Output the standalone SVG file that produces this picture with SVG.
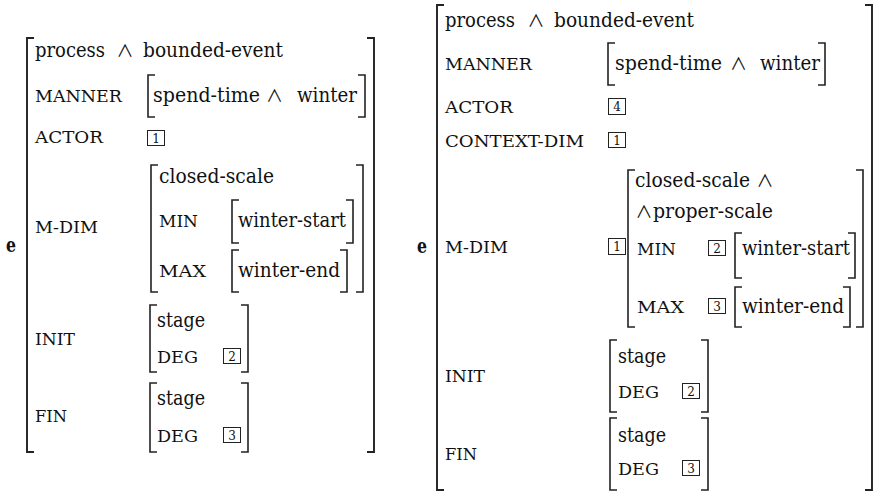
<svg xmlns="http://www.w3.org/2000/svg" width="876" height="493" viewBox="0 0 876 493">
<style>
.t{font-family:'DejaVu Serif',serif;font-size:19.5px;fill:#111}
.l{font-family:'DejaVu Serif',serif;font-size:17.5px;fill:#111}
.e{font-family:'DejaVu Serif',serif;font-size:21px;font-weight:bold;fill:#111}
.w{font-family:'Noto Sans CJK JP','DejaVu Sans',sans-serif;font-size:17px;fill:#111;text-anchor:middle}
.d{font-family:'DejaVu Serif',serif;font-size:12px;fill:#111;text-anchor:middle}
.b{fill:none;stroke:#222;stroke-width:1.6}
.bo{fill:none;stroke:#222;stroke-width:1.9}
.x{fill:none;stroke:#222;stroke-width:1}
</style>
<rect width="876" height="493" fill="#fff"/>
<g id="avm-left">
<text class="e" x="6" y="252" textLength="10" lengthAdjust="spacingAndGlyphs">e</text>
<path class="bo" d="M34 38H27V452H34M367 38H374V452H367"/>
<text class="t" x="35" y="57" textLength="70" lengthAdjust="spacingAndGlyphs">process</text><text class="w" x="125" y="57">∧</text><text class="t" x="143" y="57" textLength="140" lengthAdjust="spacingAndGlyphs">bounded-event</text>
<text class="l" x="35" y="102" textLength="87" lengthAdjust="spacingAndGlyphs">MANNER</text>
<path class="b" d="M155 75H148V117H155M358 75H365V117H358"/>
<text class="t" x="153" y="102" textLength="107" lengthAdjust="spacingAndGlyphs">spend-time</text><text class="w" x="274.5" y="102">∧</text><text class="t" x="297" y="102" textLength="60" lengthAdjust="spacingAndGlyphs">winter</text>
<text class="l" x="35" y="143" textLength="68" lengthAdjust="spacingAndGlyphs">ACTOR</text>
<rect class="x" x="147.5" y="130.5" width="17" height="15"/><text class="d" x="156" y="143">1</text>
<text class="l" x="35" y="233" textLength="63" lengthAdjust="spacingAndGlyphs">M-DIM</text>
<path class="b" d="M158 165H151V292H158M356 165H363V292H356"/>
<text class="t" x="159" y="183" textLength="115" lengthAdjust="spacingAndGlyphs">closed-scale</text>
<text class="l" x="159" y="227" textLength="39" lengthAdjust="spacingAndGlyphs">MIN</text>
<path class="b" d="M239 200H232V243H239M346 200H353V243H346"/>
<text class="t" x="238" y="227" textLength="108" lengthAdjust="spacingAndGlyphs">winter-start</text>
<text class="l" x="159" y="277" textLength="47" lengthAdjust="spacingAndGlyphs">MAX</text>
<path class="b" d="M239 250H232V292H239M340 250H347V292H340"/>
<text class="t" x="238" y="277" textLength="102" lengthAdjust="spacingAndGlyphs">winter-end</text>
<text class="l" x="35" y="345" textLength="40" lengthAdjust="spacingAndGlyphs">INIT</text>
<path class="b" d="M157 305H150V372H157M241 305H248V372H241"/>
<text class="t" x="157" y="327" textLength="48" lengthAdjust="spacingAndGlyphs">stage</text>
<text class="l" x="157" y="363" textLength="41" lengthAdjust="spacingAndGlyphs">DEG</text>
<rect class="x" x="223.5" y="348.5" width="17" height="15"/><text class="d" x="232" y="361">2</text>
<text class="l" x="35" y="422" textLength="32" lengthAdjust="spacingAndGlyphs">FIN</text>
<path class="b" d="M157 383H150V452H157M241 383H248V452H241"/>
<text class="t" x="157" y="405" textLength="48" lengthAdjust="spacingAndGlyphs">stage</text>
<text class="l" x="157" y="442" textLength="41" lengthAdjust="spacingAndGlyphs">DEG</text>
<rect class="x" x="223.5" y="427.5" width="17" height="15"/><text class="d" x="232" y="440">3</text>
</g>
<g id="avm-right">
<text class="e" x="417" y="253" textLength="10" lengthAdjust="spacingAndGlyphs">e</text>
<path class="bo" d="M444 5H437V490H444M865 5H872V490H865"/>
<text class="t" x="445" y="27" textLength="70" lengthAdjust="spacingAndGlyphs">process</text><text class="w" x="536" y="27">∧</text><text class="t" x="554" y="27" textLength="140" lengthAdjust="spacingAndGlyphs">bounded-event</text>
<text class="l" x="445" y="70" textLength="87" lengthAdjust="spacingAndGlyphs">MANNER</text>
<path class="b" d="M615 43H608V85H615M818 43H825V85H818"/>
<text class="t" x="615" y="70" textLength="107" lengthAdjust="spacingAndGlyphs">spend-time</text><text class="w" x="738.5" y="70">∧</text><text class="t" x="760" y="70" textLength="60" lengthAdjust="spacingAndGlyphs">winter</text>
<text class="l" x="445" y="113" textLength="68" lengthAdjust="spacingAndGlyphs">ACTOR</text>
<rect class="x" x="608.5" y="98.5" width="17" height="16"/><text class="d" x="617" y="111">4</text>
<text class="l" x="445" y="147" textLength="139" lengthAdjust="spacingAndGlyphs">CONTEXT-DIM</text>
<rect class="x" x="608.5" y="132.5" width="17" height="15"/><text class="d" x="617" y="145">1</text>
<text class="l" x="445" y="253" textLength="63" lengthAdjust="spacingAndGlyphs">M-DIM</text>
<rect class="x" x="608.5" y="238.5" width="17" height="16"/><text class="d" x="617" y="251">1</text>
<path class="b" d="M635 170H628V327H635M856 170H863V327H856"/>
<text class="t" x="635" y="187" textLength="115" lengthAdjust="spacingAndGlyphs">closed-scale</text><text class="w" x="765" y="187">∧</text>
<text class="w" x="644" y="218">∧</text><text class="t" x="653" y="218" textLength="120" lengthAdjust="spacingAndGlyphs">proper-scale</text>
<text class="l" x="637" y="255" textLength="39" lengthAdjust="spacingAndGlyphs">MIN</text>
<rect class="x" x="708.5" y="240.5" width="17" height="15"/><text class="d" x="717" y="253">2</text>
<path class="b" d="M742 233H735V278H742M848 233H855V278H848"/>
<text class="t" x="742" y="255" textLength="108" lengthAdjust="spacingAndGlyphs">winter-start</text>
<text class="l" x="637" y="313" textLength="47" lengthAdjust="spacingAndGlyphs">MAX</text>
<rect class="x" x="708.5" y="298.5" width="17" height="15"/><text class="d" x="717" y="311">3</text>
<path class="b" d="M742 287H735V327H742M843 287H850V327H843"/>
<text class="t" x="742" y="313" textLength="102" lengthAdjust="spacingAndGlyphs">winter-end</text>
<text class="l" x="445" y="382" textLength="40" lengthAdjust="spacingAndGlyphs">INIT</text>
<path class="b" d="M617 340H610V412H617M701 340H708V412H701"/>
<text class="t" x="618" y="363" textLength="48" lengthAdjust="spacingAndGlyphs">stage</text>
<text class="l" x="618" y="398" textLength="41" lengthAdjust="spacingAndGlyphs">DEG</text>
<rect class="x" x="682.5" y="383.5" width="17" height="15"/><text class="d" x="691" y="396">2</text>
<text class="l" x="445" y="460" textLength="32" lengthAdjust="spacingAndGlyphs">FIN</text>
<path class="b" d="M617 418H610V490H617M701 418H708V490H701"/>
<text class="t" x="618" y="442" textLength="48" lengthAdjust="spacingAndGlyphs">stage</text>
<text class="l" x="618" y="475" textLength="41" lengthAdjust="spacingAndGlyphs">DEG</text>
<rect class="x" x="682.5" y="460.5" width="17" height="15"/><text class="d" x="691" y="473">3</text>
</g>
</svg>
